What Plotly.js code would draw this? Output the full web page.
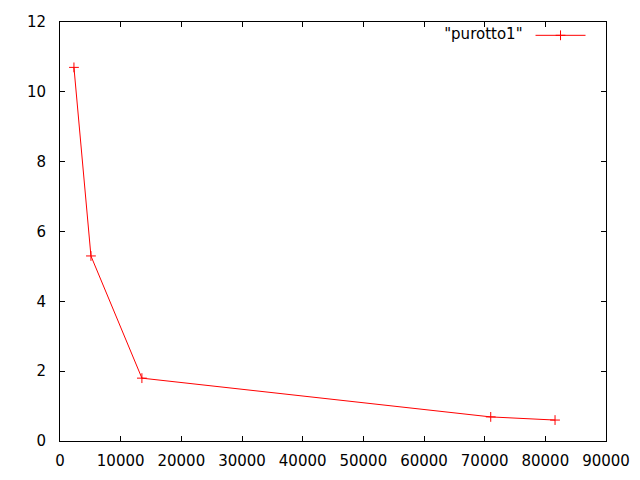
<!DOCTYPE html>
<html>
<head>
<meta charset="utf-8">
<script src="https://cdn.plot.ly/plotly-3.0.1.min.js"></script>
<style>html,body{margin:0;padding:0;background:#fff;}#chart{width:640px;height:480px;}</style>
</head>
<body>
<div id="chart"></div>
<script>
const seriesName = '"purotto1"';
const xValues = [2300, 5100, 13500, 71000, 81600];
const yValues = [10.7, 5.3, 1.8, 0.69, 0.6];
const xTicks = [0, 10000, 20000, 30000, 40000, 50000, 60000, 70000, 80000, 90000];
const yTicks = [0, 2, 4, 6, 8, 10, 12];

const font = {family: 'DejaVu Sans, sans-serif', size: 15, color: '#000'};

const trace = {
  x: xValues, y: yValues, type: 'scatter', mode: 'lines+markers', name: '',
  showlegend: true,
  line: {color: '#ff0000', width: 1},
  marker: {symbol: 'cross-thin-open', size: 7, color: '#ff0000', line: {color: '#ff0000', width: 1}}
};

const axisCommon = {
  showgrid: false, zeroline: false, showline: true, linecolor: '#000', linewidth: 1,
  mirror: 'allticks', ticks: 'inside', ticklen: 5, tickcolor: '#000', tickwidth: 1,
  tickfont: font
};

const layout = {
  width: 640, height: 480,
  margin: {l: 60, r: 34, t: 22, b: 39},
  paper_bgcolor: '#fff', plot_bgcolor: '#fff',
  font: font,
  xaxis: Object.assign({}, axisCommon, {range: [0, 90000], tickvals: xTicks, ticktext: xTicks.map(String), ticklabelstandoff: 6}),
  yaxis: Object.assign({}, axisCommon, {range: [0, 12], tickvals: yTicks, ticktext: yTicks.map(String), ticklabelstandoff: 10}),
  legend: {
    x: 0.70, y: 1.007, xanchor: 'left', yanchor: 'top',
    bgcolor: 'rgba(0,0,0,0)', borderwidth: 0, itemwidth: 50,
    title: {text: seriesName, side: 'left', font: font},
    font: font
  }
};

Plotly.newPlot('chart', [trace], layout, {displayModeBar: false, staticPlot: true});
</script>
</body>
</html>
